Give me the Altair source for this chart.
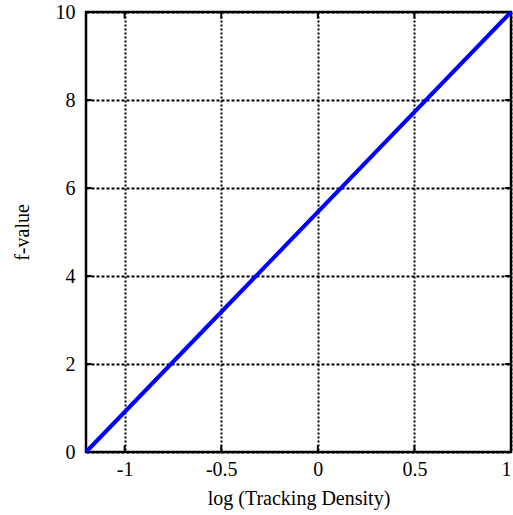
import altair as alt
import pandas as pd

# f-value against log tracking density
log_density = [-1.2, 1.0]
f_value = [0.0, 10.0]

x_ticks = [-1, -0.5, 0, 0.5, 1]
y_ticks = [0, 2, 4, 6, 8, 10]

df = pd.DataFrame({"x": log_density, "y": f_value})

FONT = "Liberation Serif"

x_scale = alt.Scale(domain=[-1.2, 1.0], nice=False, zero=False)
y_scale = alt.Scale(domain=[0, 10], nice=False, zero=False)

common = dict(
    grid=True,
    gridColor="black",
    gridWidth=2,
    gridOpacity=1,
    domain=False,
    ticks=False,
    labelFontSize=20,
    titleFontSize=20,
    titleFontWeight="normal",
    labelFont=FONT,
    titleFont=FONT,
    labelColor="black",
    titleColor="black",
)

line = alt.Chart(df).mark_line(color="#0000ff", strokeWidth=4).encode(
    x=alt.X(
        "x:Q",
        scale=x_scale,
        axis=alt.Axis(
            values=x_ticks,
            title="log (Tracking Density)",
            labelExpr="datum.value + ''",
            gridDash=[2, 2],
            labelPadding=7,
            titlePadding=9,
            **common,
        ),
    ),
    y=alt.Y(
        "y:Q",
        scale=y_scale,
        axis=alt.Axis(
            values=y_ticks,
            title="f-value",
            gridDash=[3, 2],
            labelPadding=11,
            titlePadding=23,
            **common,
        ),
    ),
)

# short inward tick marks along the frame
xt = pd.DataFrame({"x": x_ticks})
yt = pd.DataFrame({"y": y_ticks})
bottom_ticks = alt.Chart(xt).mark_rule(color="black", strokeWidth=2).encode(
    x=alt.X("x:Q", scale=x_scale), y=alt.datum(0), y2=alt.datum(0.15)
)
top_ticks = alt.Chart(xt).mark_rule(color="black", strokeWidth=2).encode(
    x=alt.X("x:Q", scale=x_scale), y=alt.datum(9.85), y2=alt.datum(10)
)
left_ticks = alt.Chart(yt).mark_rule(color="black", strokeWidth=2).encode(
    y=alt.Y("y:Q", scale=y_scale), x=alt.datum(-1.2), x2=alt.datum(-1.17)
)
right_ticks = alt.Chart(yt).mark_rule(color="black", strokeWidth=2).encode(
    y=alt.Y("y:Q", scale=y_scale), x=alt.datum(0.97), x2=alt.datum(1.0)
)

chart = (
    alt.layer(bottom_ticks, top_ticks, left_ticks, right_ticks, line)
    .properties(
        width=425,
        height=440,
        autosize=alt.AutoSizeParams(type="none"),
        padding={"left": 86, "top": 12, "right": 2, "bottom": 63},
        background="white",
    )
    .configure_view(stroke="black", strokeWidth=2.5)
)

chart.save("out.html", embed_options={"renderer": "svg", "actions": False})
